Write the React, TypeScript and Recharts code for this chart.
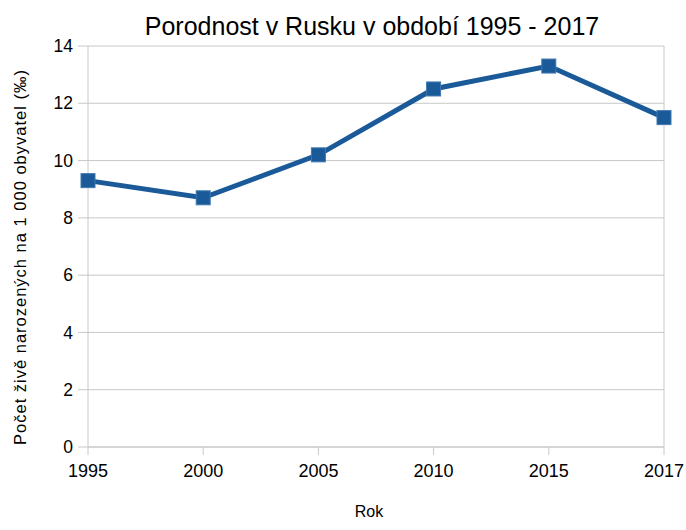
import { LineChart, Line, XAxis, YAxis, CartesianGrid, ReferenceLine } from 'recharts'

const years = ['1995', '2000', '2005', '2010', '2015', '2017']
const birthRate = [9.3, 8.7, 10.2, 12.5, 13.3, 11.5]
const yTicks = [0, 2, 4, 6, 8, 10, 12, 14]

const data = years.map((year, i) => ({ year, value: birthRate[i] }))

const FONT = '"Liberation Sans", Arial, sans-serif'
const BLUE = '#1a5a98'

const SquareDot = (props: any) => {
  const { cx, cy } = props
  if (cx == null || cy == null) return null
  return <rect x={cx - 7} y={cy - 7} width={14} height={14} fill={BLUE} stroke="#3f78b0" strokeWidth={1} />
}

export default function App() {
  return (
    <div style={{ position: 'absolute', left: 0, top: 0, width: 686, height: 530, background: '#fff', fontFamily: FONT }}>
      <LineChart width={686} height={530} data={data} margin={{ top: 46, right: 22, left: 0, bottom: 43 }}>
        <text x={372} y={35} textAnchor="middle" fontSize={25} fill="#000" fontFamily={FONT}>
          Porodnost v Rusku v období 1995 - 2017
        </text>
        <text
          x={26}
          y={257}
          textAnchor="middle"
          fontSize={16.5}
          letterSpacing={1}
          fill="#000"
          fontFamily={FONT}
          transform="rotate(-90, 26, 257)"
        >
          Počet živě narozených na 1 000 obyvatel (‰)
        </text>
        <text x={369} y={517} textAnchor="middle" fontSize={16} fill="#000" fontFamily={FONT}>
          Rok
        </text>
        <CartesianGrid vertical={false} stroke="#c8c8c8" strokeWidth={1} />
        <ReferenceLine x="2017" stroke="#c8c8c8" strokeWidth={1} />
        <XAxis
          dataKey="year"
          height={40}
          axisLine={{ stroke: '#c8c8c8' }}
          tickLine={{ stroke: '#c8c8c8' }}
          tickSize={8}
          tickMargin={9}
          tick={{ fill: '#000', fontSize: 18, fontFamily: FONT }}
          interval={0}
        />
        <YAxis
          domain={[0, 14]}
          ticks={yTicks}
          width={88}
          axisLine={{ stroke: '#c8c8c8' }}
          tickLine={{ stroke: '#c8c8c8' }}
          tickSize={10}
          tickMargin={5}
          tick={{ fill: '#000', fontSize: 17.5, fontFamily: FONT }}
        />
        <Line
          type="linear"
          dataKey="value"
          stroke={BLUE}
          strokeWidth={5}
          dot={<SquareDot />}
          activeDot={false}
          isAnimationActive={false}
        />
      </LineChart>
    </div>
  )
}
